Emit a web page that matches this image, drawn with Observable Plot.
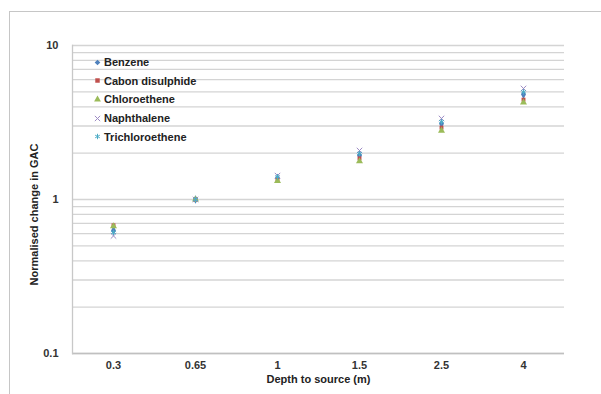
<!DOCTYPE html>
<html>
<head>
<meta charset="utf-8">
<script src="https://cdn.jsdelivr.net/npm/d3@7"></script>
<script src="https://cdn.jsdelivr.net/npm/@observablehq/plot@0.6"></script>
<style>
  html, body { margin: 0; padding: 0; background: #fff; }
  body { width: 601px; height: 394px; position: relative; overflow: hidden;
         font-family: "Liberation Sans Narrow", "Liberation Sans", Arial, sans-serif; }
  #frame { position: absolute; left: 9px; top: 11px; width: 700px; height: 500px;
           border-left: 1px solid #c6c6c6; border-top: 1px solid #c6c6c6; }
  #chart { position: absolute; left: 0; top: 0; }
  #legend { position: absolute; left: 93px; top: 53px; font-size: 11px; font-weight: bold; color: #222; }
  #legend .item { height: 18.6px; display: flex; align-items: center; white-space: nowrap; }
  #legend svg { margin-right: 2px; }
</style>
</head>
<body>
<div id="frame"></div>
<div id="chart"></div>
<div id="legend"></div>
<script>
const depths = ["0.3", "0.65", "1", "1.5", "2.5", "4"];
const seriesNames = ["Benzene", "Cabon disulphide", "Chloroethene", "Naphthalene", "Trichloroethene"];
const benzene        = [0.63, 1.0, 1.38, 1.93, 3.10, 4.80];
const carbonDisulph  = [0.68, 1.0, 1.35, 1.85, 2.93, 4.45];
const chloroethene   = [0.67, 1.0, 1.32, 1.77, 2.80, 4.26];
const naphthalene    = [0.58, 1.0, 1.43, 2.08, 3.36, 5.26];
const trichloroethene= [0.61, 1.0, 1.40, 1.99, 3.20, 5.00];
const yTickLabels = [0.1, 1, 10];
const xTitle = "Depth to source (m)";
const yTitle = "Normalised change in GAC";

const colors = ["#4F81BD", "#C0504D", "#9BBB59", "#9D8BC4", "#4BACC6"];
const symbols = ["diamond", "square", "triangle", "times", "asterisk"];
const filled = [true, true, true, false, false];
const valuesList = [benzene, carbonDisulph, chloroethene, naphthalene, trichloroethene];

const data = [];
seriesNames.forEach((s, i) => depths.forEach((d, j) => data.push({series: s, depth: d, value: valuesList[i][j], idx: i})));

const gridTicks = d3.scaleLog().domain([0.1, 10]).ticks();

const marks = [
  Plot.gridY(gridTicks, {stroke: "#d4d4d4", strokeOpacity: 1, strokeWidth: 1.3}),
  Plot.ruleY([0.1], {stroke: "#c0c0c0", strokeWidth: 1.3}),
  Plot.frame({anchor: "left", stroke: "#c8c8c8", strokeWidth: 1.3}),
  Plot.axisY(yTickLabels, {tickSize: 0, tickPadding: 14, tickFormat: d => String(d), fontSize: 11, fontWeight: "bold", fill: "#333",
    label: yTitle, labelAnchor: "center", labelArrow: "none", labelOffset: 42}),
  Plot.axisX({tickSize: 0, tickPadding: 8, fontSize: 11, fontWeight: "bold", fill: "#333",
    label: xTitle, labelAnchor: "center", labelArrow: "none", labelOffset: 29})
];
seriesNames.forEach((s, i) => {
  const sub = data.filter(d => d.idx === i);
  marks.push(Plot.dot(sub, {
    x: "depth", y: "value", symbol: () => symbols[i], r: symbols[i] === "square" ? 2.2 : 2.6,
    fill: filled[i] ? colors[i] : "none", stroke: filled[i] ? "none" : colors[i], strokeWidth: 1
  }));
});

const chart = Plot.plot({
  width: 601, height: 394,
  marginLeft: 72, marginRight: 37, marginTop: 45, marginBottom: 41,
  style: {fontFamily: '"Liberation Sans Narrow", "Liberation Sans", Arial, sans-serif', background: "transparent"},
  x: {type: "band", domain: depths, padding: 0},
  y: {type: "log", domain: [0.1, 10]},
  symbol: {type: "identity"},
  marks
});
chart.querySelectorAll('[aria-label="y-axis label"] text, [aria-label="x-axis label"] text').forEach(t => {
  t.setAttribute("font-weight", "bold"); t.setAttribute("font-size", "11"); t.setAttribute("fill", "#222");
});
const yl = chart.querySelector('[aria-label="y-axis label"]');
if (yl) {
  const wrap = document.createElementNS("http://www.w3.org/2000/svg", "g");
  wrap.setAttribute("transform", "translate(0,15)");
  yl.parentNode.insertBefore(wrap, yl);
  wrap.appendChild(yl);
}
document.getElementById("chart").appendChild(chart);

const leg = document.getElementById("legend");
const d3sym = {diamond: d3.symbolDiamond2, square: d3.symbolSquare, triangle: d3.symbolTriangle, times: d3.symbolTimes, asterisk: d3.symbolAsterisk};
seriesNames.forEach((s, i) => {
  const item = document.createElement("div");
  item.className = "item";
  const sym = d3.symbol(d3sym[symbols[i]], 20)();
  const svg = d3.create("svg").attr("width", 9).attr("height", 9).attr("viewBox", "-4.5 -4.5 9 9");
  svg.append("path").attr("d", sym)
    .attr("fill", filled[i] ? colors[i] : "none")
    .attr("stroke", filled[i] ? "none" : colors[i]).attr("stroke-width", 1);
  item.appendChild(svg.node());
  const span = document.createElement("span");
  span.textContent = s;
  item.appendChild(span);
  leg.appendChild(item);
});
</script>
</body>
</html>
